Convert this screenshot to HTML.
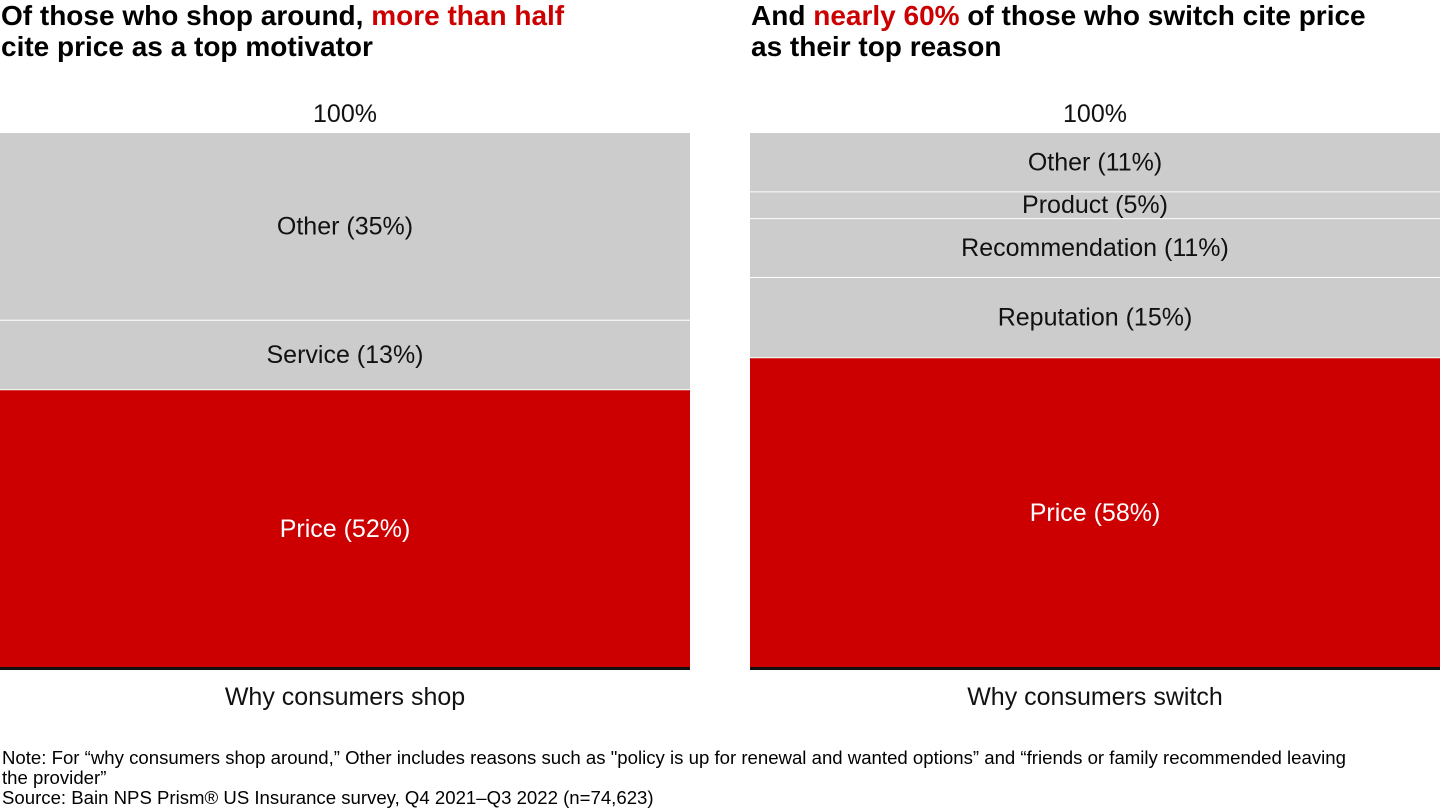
<!DOCTYPE html>
<html><head><meta charset="utf-8">
<style>
body{margin:0;width:1440px;height:809px;background:#fff;font-family:"Liberation Sans",sans-serif;overflow:hidden;position:relative}
.title{position:absolute;top:0px;font-size:28px;font-weight:bold;line-height:31px;color:#000;letter-spacing:0px}
.red{color:#cc0000}
.note{position:absolute;left:2px;top:748px;font-size:18.6px;line-height:20px;color:#000;width:1372px}
svg{position:absolute;left:0;top:0}
</style></head><body>
<div class="title" style="left:1px">Of those who shop around, <span class="red">more than half</span><br>cite price as a top motivator</div>
<div class="title" style="left:751px">And <span class="red">nearly 60%</span> of those who switch cite price<br>as their top reason</div>
<svg id="chart" width="1440" height="809"></svg>
<div class="note">Note: For “why consumers shop around,” Other includes reasons such as "policy is up for renewal and wanted options” and “friends or family recommended leaving<br>the provider”<br>Source: Bain NPS Prism® US Insurance survey, Q4 2021–Q3 2022 (n=74,623)</div>
<script>
const shopLabels=["Price","Service","Other"];
const shopValues=[52,13,35];
const switchLabels=["Price","Reputation","Recommendation","Product","Other"];
const switchValues=[58,15,11,5,11];
const barNames=["Why consumers shop","Why consumers switch"];
const NS="http://www.w3.org/2000/svg";
const svg=document.getElementById('chart');
const top0=133,base=668,H=base-top0;
function y(v){return base-v/100*H;}
function mk(t,a){const e=document.createElementNS(NS,t);for(const k in a)e.setAttribute(k,a[k]);svg.appendChild(e);return e;}
function drawBar(x0,w,labels,values,name){
  let cum=0;
  labels.forEach((lab,i)=>{
    const y1=y(cum),y2=y(cum+values[i]);
    const r=mk('rect',{x:x0,y:y2,width:w,height:y1-y2,fill:i===0?'#cc0000':'#cccccc'});
    
    
    if(i>0){const l=mk('line',{x1:x0,x2:x0+w,y1:y1,y2:y1,stroke:'#fff','stroke-width':1});
      
      }
    const t=mk('text',{x:x0+w/2,y:(y1+y2)/2+8,'text-anchor':'middle','font-size':25,fill:i===0?'#fff':'#111','font-family':'Liberation Sans, sans-serif'});
    t.textContent=lab+' ('+values[i]+'%)';
    
    
    cum+=values[i];
  });
  const bl=mk('rect',{x:x0,y:base-1,width:w,height:3,fill:'#111'});
  
  
  const tt=mk('text',{x:x0+w/2,y:122,'text-anchor':'middle','font-size':25,fill:'#111','font-family':'Liberation Sans, sans-serif'});
  tt.textContent='100%';
  
  
  const cl=mk('text',{x:x0+w/2,y:705,'text-anchor':'middle','font-size':25,fill:'#111','font-family':'Liberation Sans, sans-serif'});
  cl.textContent=name;
  
  
}
drawBar(0,690,shopLabels,shopValues,barNames[0]);
drawBar(750,690,switchLabels,switchValues,barNames[1]);
</script>
</body></html>
